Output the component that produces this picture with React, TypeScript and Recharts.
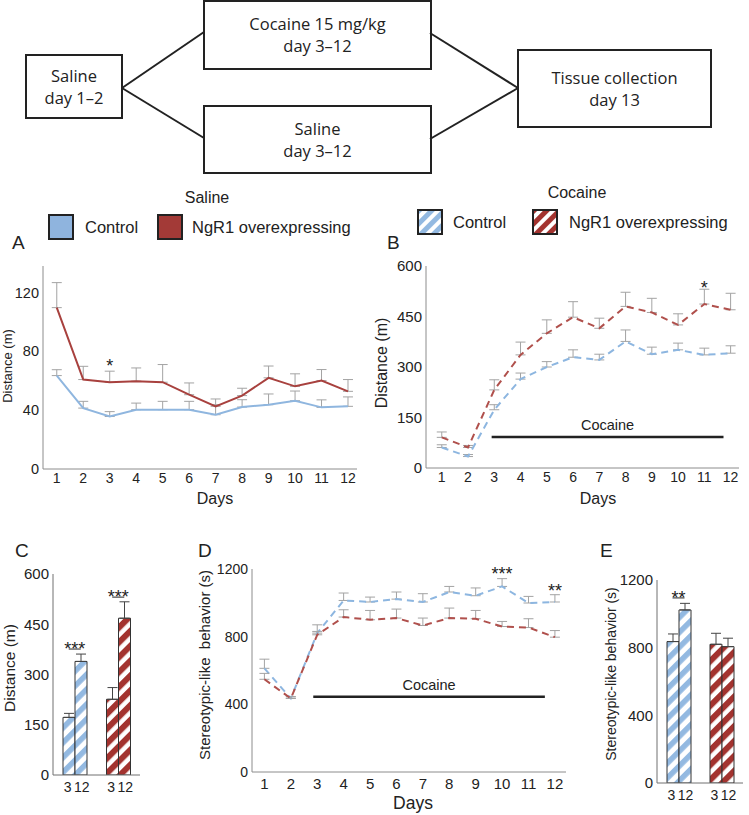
import React from 'react';
import {
  LineChart,
  Line,
  BarChart,
  Bar,
  Cell,
  XAxis,
  YAxis,
  ErrorBar,
  ReferenceLine,
  ReferenceDot,
} from 'recharts';

const days = [1, 2, 3, 4, 5, 6, 7, 8, 9, 10, 11, 12];

// A - saline, distance (m)
const salineControl = [63.5, 41.4, 35.7, 40.3, 40.3, 40.3, 36.9, 42.1, 43.7, 46.4, 41.9, 42.6];
const salineControlErr = [4, 4.6, 3.3, 4.5, 5.7, 5.7, 6.8, 5, 7.3, 6.6, 5.1, 6.4];
const salineNgR1 = [109.7, 60.8, 59, 59.7, 59, 50.5, 42.6, 49.9, 62, 56.2, 60.1, 52.8];
const salineNgR1Err = [17, 9, 7.5, 9, 12, 8, 5, 5, 8, 8.5, 7.5, 8];

// B - cocaine, distance (m)
const cocaineControl = [61, 34, 173, 264, 300, 329, 321, 376, 338, 351, 336, 341];
const cocaineControlErr = [8, 6, 15, 18, 16, 22, 17, 34, 21, 20, 20, 22];
const cocaineNgR1 = [91, 61, 232, 336, 400, 448, 415, 480, 462, 425, 487, 470];
const cocaineNgR1Err = [16, 6, 30, 38, 40, 46, 30, 42, 42, 33, 44, 49];

// D - cocaine, stereotypic-like behavior (s)
const stereoControl = [613, 435, 821, 1014, 1005, 1022, 1005, 1064, 1042, 1097, 999, 1005];
const stereoControlErr = [54, 10, 49, 44, 29, 42, 49, 33, 46, 46, 39, 43];
const stereoNgR1 = [548, 435, 811, 916, 900, 910, 866, 910, 906, 860, 854, 797];
const stereoNgR1Err = [35, 10, 20, 43, 55, 53, 44, 59, 49, 30, 52, 39];

// C and E - day 3 vs day 12
const barDays = ['3', '12'];
const groups = ['Control', 'NgR1 overexpressing'];
const distControl = [172, 339];
const distControlErr = [12, 22];
const distNgR1 = [226, 468];
const distNgR1Err = [35, 49];
const stereoBarControl = [836, 1023];
const stereoBarControlErr = [45, 39];
const stereoBarNgR1 = [820, 806];
const stereoBarNgR1Err = [65, 50];

const BLUE = '#8fb6df';
const RED = '#a8413e';
const BLUE_DASH = '#8db6e0';
const RED_DASH = '#b0504c';
const AXIS = '#8c8c8c';
const INK = '#222';

const toRows = (a: number[], aErr: number[], b: number[], bErr: number[]) =>
  days.map((day, i) => ({
    day,
    ctrl: a[i],
    ngr: b[i],
    ctrlErr: [0, aErr[i]],
    ngrErr: [0, bErr[i]],
  }));

const toBarRows = (c: number[], cErr: number[], n: number[], nErr: number[]) => [
  { group: groups[0], d3: c[0], d12: c[1], e3: [0, cErr[0]], e12: [0, cErr[1]] },
  { group: groups[1], d3: n[0], d12: n[1], e3: [0, nErr[0]], e12: [0, nErr[1]] },
];

const salineRows = toRows(salineControl, salineControlErr, salineNgR1, salineNgR1Err);
const cocaineRows = toRows(cocaineControl, cocaineControlErr, cocaineNgR1, cocaineNgR1Err);
const stereoRows = toRows(stereoControl, stereoControlErr, stereoNgR1, stereoNgR1Err);
const distBarRows = toBarRows(distControl, distControlErr, distNgR1, distNgR1Err);
const stereoBarRows = toBarRows(stereoBarControl, stereoBarControlErr, stereoBarNgR1, stereoBarNgR1Err);

function Txt({ x, y, size, children, rotate, left, font }: any) {
  return (
    <div
      style={{
        position: 'absolute',
        left: x,
        top: y,
        fontSize: size,
        lineHeight: 1,
        whiteSpace: 'pre',
        fontFamily: font,
        transform: `translate(${left ? '0' : '-50%'},-50%)${rotate ? ' rotate(-90deg)' : ''}`,
      }}
    >
      {children}
    </div>
  );
}

function Box({ x, y, w, h, lines }: any) {
  return (
    <div
      style={{
        position: 'absolute',
        left: x,
        top: y,
        width: w,
        height: h,
        boxSizing: 'border-box',
        border: `2px solid ${INK}`,
        display: 'flex',
        flexDirection: 'column',
        alignItems: 'center',
        justifyContent: 'center',
        fontFamily: '"Open Sans", sans-serif',
        fontSize: 16.5,
        lineHeight: '22px',
      }}
    >
      {lines.map((l: string) => (
        <div key={l}>{l}</div>
      ))}
    </div>
  );
}

function Swatch({ x, y, fill }: any) {
  return (
    <svg width={26} height={26} style={{ position: 'absolute', left: x - 1, top: y - 1 }}>
      <rect x={1} y={1} width={24} height={24} fill={fill} stroke={INK} strokeWidth={2} />
    </svg>
  );
}

const star = (text: string, dy: number, size = 18) => (p: any) => (
  <text x={p.cx} y={p.cy + dy} textAnchor="middle" fontSize={size} fill={INK}>
    {text}
  </text>
);

const sigBar = (text: string) => (p: any) => (
  <g>
    <line x1={p.cx - 6} x2={p.cx + 6} y1={p.cy} y2={p.cy} stroke={INK} strokeWidth={1} />
    <text x={p.cx} y={p.cy + 6} textAnchor="middle" fontSize={18} fill={INK}>
      {text}
    </text>
  </g>
);

function BarTicks({ x, y }: any) {
  return (
    <g>
      <text x={x - 7} y={y + 17} textAnchor="middle" fontSize={14} fill={INK}>
        {barDays[0]}
      </text>
      <text x={x + 7} y={y + 17} textAnchor="middle" fontSize={14} fill={INK}>
        {barDays[1]}
      </text>
    </g>
  );
}

function DayChart({ x0, y0, plotW, plotH, rows, xDomain, yDomain, yTicks, dashed, yFont, xFont, xMargin, capsOnTop, children }: any) {
  const yw = 40;
  const dash = dashed ? '7 5' : undefined;
  const errs = (key: string) => (
    <ErrorBar dataKey={key} direction="y" width={5} stroke="#a3a3a3" strokeWidth={1} />
  );
  return (
    <div style={{ position: 'absolute', left: x0 - yw, top: y0 - 8 }}>
      <LineChart
        width={plotW + yw + 8}
        height={plotH + 8 + 30}
        data={rows}
        margin={{ top: 8, right: 8, left: 0, bottom: 0 }}
      >
        <XAxis
          dataKey="day"
          type="number"
          domain={xDomain}
          ticks={days}
          interval={0}
          tickSize={0}
          tickMargin={xMargin}
          height={30}
          stroke={AXIS}
          tick={{ fill: INK, fontSize: xFont }}
          allowDataOverflow
        />
        <YAxis
          type="number"
          domain={yDomain}
          ticks={yTicks}
          interval={0}
          width={yw}
          tickSize={0}
          tickMargin={4}
          stroke={AXIS}
          tick={{ fill: INK, fontSize: yFont }}
          allowDataOverflow
        />
        {!capsOnTop && (
          <Line dataKey="ctrl" stroke="none" dot={false} isAnimationActive={false} legendType="none">
            {errs('ctrlErr')}
          </Line>
        )}
        {!capsOnTop && (
          <Line dataKey="ngr" stroke="none" dot={false} isAnimationActive={false} legendType="none">
            {errs('ngrErr')}
          </Line>
        )}
        <Line
          dataKey="ctrl"
          stroke={dashed ? BLUE_DASH : BLUE}
          strokeWidth={2}
          strokeDasharray={dash}
          dot={false}
          isAnimationActive={false}
        >
          {capsOnTop && errs('ctrlErr')}
        </Line>
        <Line
          dataKey="ngr"
          stroke={dashed ? RED_DASH : RED}
          strokeWidth={2}
          strokeDasharray={dash}
          dot={false}
          isAnimationActive={false}
        >
          {capsOnTop && errs('ngrErr')}
        </Line>
        {children}
      </LineChart>
    </div>
  );
}

function BarPanel({ x0, y0, plotW, plotH, rows, yDomain, yTicks, children }: any) {
  const yw = 40;
  return (
    <div style={{ position: 'absolute', left: x0 - yw, top: y0 - 8 }}>
      <BarChart
        width={plotW + yw + 8}
        height={plotH + 8 + 30}
        data={rows}
        margin={{ top: 8, right: 8, left: 0, bottom: 0 }}
        barGap={0}
        barSize={12}
      >
        <XAxis dataKey="group" tickSize={0} tickMargin={0} height={30} stroke="#707070" tick={<BarTicks />} interval={0} />
        <YAxis
          type="number"
          domain={yDomain}
          ticks={yTicks}
          interval={0}
          width={yw}
          tickSize={0}
          tickMargin={4}
          stroke="#707070"
          tick={{ fill: INK, fontSize: 15 }}
          allowDataOverflow
        />
        <Bar dataKey="d3" stroke="#333" strokeWidth={1} isAnimationActive={false}>
          {rows.map((_: any, i: number) => (
            <Cell key={i} fill={i === 0 ? 'url(#stripeBlue)' : 'url(#stripeRed)'} />
          ))}
          <ErrorBar dataKey="e3" direction="y" width={5} stroke="#444" strokeWidth={1} />
        </Bar>
        <Bar dataKey="d12" stroke="#333" strokeWidth={1} isAnimationActive={false}>
          {rows.map((_: any, i: number) => (
            <Cell key={i} fill={i === 0 ? 'url(#stripeBlue)' : 'url(#stripeRed)'} />
          ))}
          <ErrorBar dataKey="e12" direction="y" width={5} stroke="#444" strokeWidth={1} />
        </Bar>
        {children}
      </BarChart>
    </div>
  );
}

export default function App() {
  return (
    <div
      style={{
        position: 'absolute',
        left: 0,
        top: 0,
        width: 749,
        height: 815,
        background: '#fff',
        color: INK,
        fontFamily: '"Liberation Sans", Arial, sans-serif',
        overflow: 'hidden',
      }}
    >
      <svg width={0} height={0} style={{ position: 'absolute' }}>
        <defs>
          <pattern id="stripeBlue" patternUnits="userSpaceOnUse" width={10.5} height={10.5} patternTransform="rotate(45)">
            <rect width={10.5} height={10.5} fill="#fff" />
            <rect width={5.5} height={10.5} fill="#93b9e1" />
          </pattern>
          <pattern id="stripeRed" patternUnits="userSpaceOnUse" width={10.5} height={10.5} patternTransform="rotate(45)">
            <rect width={10.5} height={10.5} fill="#fff" />
            <rect width={6} height={10.5} fill="#a3332f" />
          </pattern>
          <pattern id="swBlue" patternUnits="userSpaceOnUse" width={9} height={9} patternTransform="rotate(45)">
            <rect width={9} height={9} fill="#fff" />
            <rect width={5} height={9} fill="#93b9e1" />
          </pattern>
          <pattern id="swRed" patternUnits="userSpaceOnUse" width={9} height={9} patternTransform="rotate(45)">
            <rect width={9} height={9} fill="#fff" />
            <rect width={5} height={9} fill="#a3332f" />
          </pattern>
        </defs>
      </svg>

      {/* experimental timeline */}
      <svg width={749} height={180} style={{ position: 'absolute', left: 0, top: 0 }}>
        <line x1={122} y1={88} x2={204} y2={32} stroke={INK} strokeWidth={2} />
        <line x1={122} y1={88} x2={204} y2={138} stroke={INK} strokeWidth={2} />
        <line x1={430} y1={33} x2={518} y2={88} stroke={INK} strokeWidth={2} />
        <line x1={430} y1={139} x2={518} y2={88} stroke={INK} strokeWidth={2} />
      </svg>
      <Box x={25} y={54} w={98} h={65} lines={['Saline', 'day 1–2']} />
      <Box x={203} y={0} w={229} h={70} lines={['Cocaine 15 mg/kg', 'day 3–12']} />
      <Box x={203} y={105} w={229} h={69} lines={['Saline', 'day 3–12']} />
      <Box x={517} y={49} w={195} h={79} lines={['Tissue collection', 'day 13']} />

      {/* legends */}
      <Txt x={207} y={198} size={16}>Saline</Txt>
      <Swatch x={49} y={215} fill="#8fb4de" />
      <Txt x={85} y={227} size={16.5} left>Control</Txt>
      <Swatch x={158} y={215} fill="#a33a37" />
      <Txt x={192} y={227} size={16.5} left>NgR1 overexpressing</Txt>

      <Txt x={577} y={193} size={16}>Cocaine</Txt>
      <Swatch x={418} y={210} fill="url(#swBlue)" />
      <Txt x={453} y={222} size={16.5} left>Control</Txt>
      <Swatch x={533} y={210} fill="url(#swRed)" />
      <Txt x={569} y={222} size={16.5} left>NgR1 overexpressing</Txt>

      {/* panel letters */}
      <Txt x={12} y={242} size={19} left>A</Txt>
      <Txt x={387} y={242} size={19} left>B</Txt>
      <Txt x={15} y={550} size={19} left>C</Txt>
      <Txt x={198} y={550} size={19} left>D</Txt>
      <Txt x={600} y={550} size={19} left>E</Txt>

      {/* A */}
      <DayChart
        x0={43}
        y0={266}
        plotW={314}
        plotH={203}
        rows={salineRows}
        xDomain={[0.48, 12.34]}
        yDomain={[0, 138]}
        yTicks={[0, 40, 80, 120]}
        yFont={14.5}
        xFont={14}
        xMargin={4}
      >
        <ReferenceDot x={3} y={salineNgR1[2] + salineNgR1Err[2]} r={0} shape={star('*', 1)} />
      </DayChart>
      <Txt x={7} y={366} size={13} rotate>Distance (m)</Txt>
      <Txt x={215} y={499} size={16}>Days</Txt>

      {/* B */}
      <DayChart
        x0={426}
        y0={266}
        plotW={313}
        plotH={202}
        rows={cocaineRows}
        xDomain={[0.4, 12.32]}
        yDomain={[0, 600]}
        yTicks={[0, 150, 300, 450, 600]}
        yFont={15}
        xFont={14}
        xMargin={4}
        dashed
      >
        <ReferenceLine
          segment={[
            { x: 2.9, y: 92 },
            { x: 11.73, y: 92 },
          ]}
          stroke={INK}
          strokeWidth={2.5}
          label={{ value: 'Cocaine', position: 'top', offset: 7, fill: INK, fontSize: 14.5 }}
        />
        <ReferenceDot x={11} y={cocaineNgR1[10] + cocaineNgR1Err[10]} r={0} shape={star('*', 5)} />
      </DayChart>
      <Txt x={381.5} y={362.5} size={16} rotate>Distance (m)</Txt>
      <Txt x={598} y={499} size={16}>Days</Txt>

      {/* C */}
      <BarPanel x0={53} y0={574} plotW={87} plotH={201} rows={distBarRows} yDomain={[0, 600]} yTicks={[0, 150, 300, 450, 600]}>
        <ReferenceDot x={groups[0]} y={376} r={0} shape={sigBar('***')} />
        <ReferenceDot x={groups[1]} y={531} r={0} shape={sigBar('***')} />
      </BarPanel>
      <Txt x={9.5} y={667.5} size={15.5} rotate>Distance (m)</Txt>

      {/* D */}
      <DayChart
        x0={252}
        y0={569}
        plotW={314}
        plotH={203}
        rows={stereoRows}
        xDomain={[0.53, 12.42]}
        yDomain={[0, 1200]}
        yTicks={[0, 400, 800, 1200]}
        yFont={14}
        xFont={15}
        xMargin={6}
        dashed
        capsOnTop
      >
        <ReferenceLine
          segment={[
            { x: 2.85, y: 445 },
            { x: 11.62, y: 445 },
          ]}
          stroke={INK}
          strokeWidth={2.5}
          label={{ value: 'Cocaine', position: 'top', offset: 7, fill: INK, fontSize: 14.5 }}
        />
        <ReferenceDot x={10} y={stereoControl[9] + stereoControlErr[9]} r={0} shape={star('***', 1)} />
        <ReferenceDot x={12} y={stereoControl[11] + stereoControlErr[11]} r={0} shape={star('**', 2)} />
      </DayChart>
      <Txt x={203.5} y={665} size={15} rotate>Stereotypic-like  behavior (s)</Txt>
      <Txt x={413} y={804} size={17.5}>Days</Txt>

      {/* E */}
      <BarPanel x0={657} y0={580} plotW={86} plotH={203} rows={stereoBarRows} yDomain={[0, 1200]} yTicks={[0, 400, 800, 1200]}>
        <ReferenceDot x={groups[0]} y={1094} r={0} shape={sigBar('**')} />
      </BarPanel>
      <Txt x={611} y={674} size={14} rotate>Stereotypic-like behavior (s)</Txt>
    </div>
  );
}
